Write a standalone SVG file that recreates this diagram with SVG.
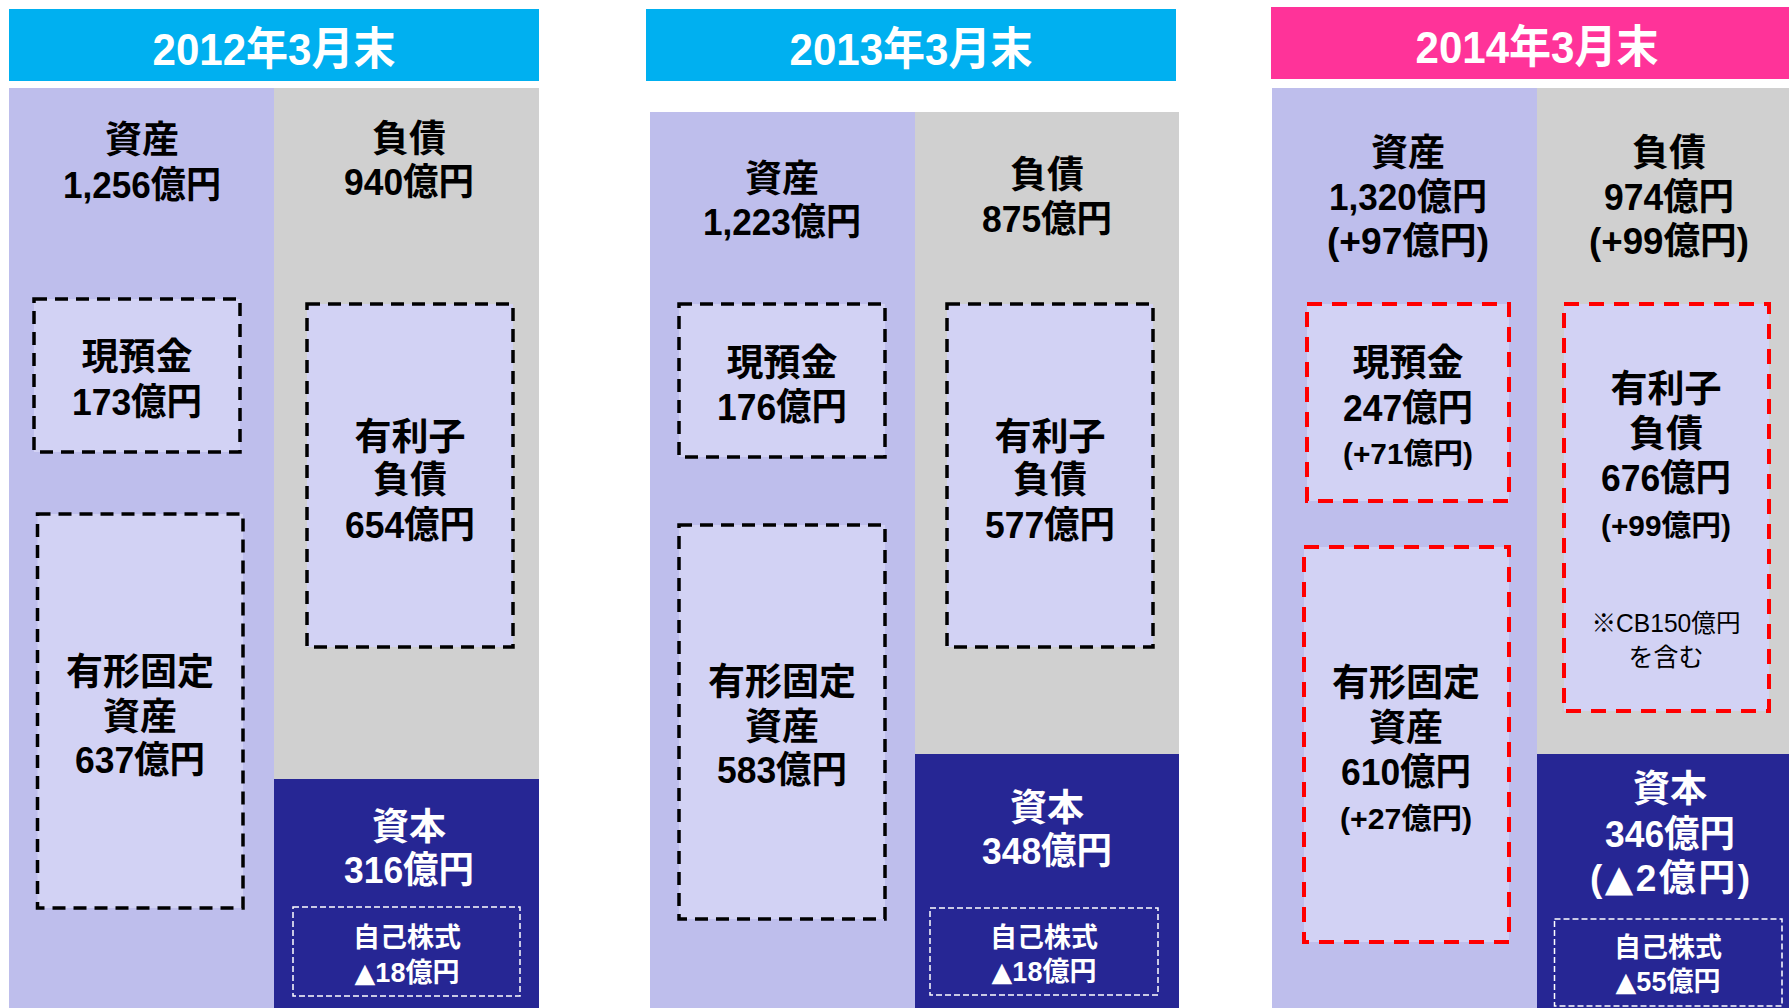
<svg xmlns="http://www.w3.org/2000/svg" width="1789" height="1008" viewBox="0 0 1789 1008">
<style>
text{font-family:"Liberation Sans","Noto Sans CJK JP",sans-serif;font-weight:bold;text-anchor:middle}
.hd{fill:#fff;font-size:45px}
.t{fill:#000;font-size:37px}
.w{fill:#fff;font-size:37px}
.s{font-size:29px}
.xs{font-size:25px;font-weight:normal}
.ws{fill:#fff;font-size:27px}
.tri{font-family:"DejaVu Sans",sans-serif}
.asset{fill:#BEBEEC}
.liab{fill:#D0D0D0}
.cap{fill:#262694}
.box{fill:#D2D2F4;stroke:#000;stroke-width:3.5;stroke-dasharray:13 8}
.rbox{fill:#D2D2F4;stroke:#FF0000;stroke-width:4;stroke-dasharray:15 10}
.wbox{fill:none;stroke:#fff;stroke-width:1.5;stroke-dasharray:6 3}
</style>
<rect width="1789" height="1008" fill="#fff"/>

<g id="p2012">
<rect x="9" y="9" width="530" height="72" fill="#00B0F0"/>
<text class="hd" x="274" y="65" textLength="243" lengthAdjust="spacingAndGlyphs">2012年3月末</text>
<rect class="asset" x="9" y="88" width="265" height="920"/>
<rect class="liab" x="274" y="88" width="265" height="691"/>
<rect class="cap" x="274" y="779" width="265" height="229"/>
</g>
<g id="n2012-asset"><text class="t" x="142" y="153">資産<tspan x="142" y="198" textLength="158" lengthAdjust="spacingAndGlyphs">1,256億円</tspan></text></g>
<g id="n2012-liab"><text class="t" x="409" y="152">負債<tspan x="409" y="195" textLength="130" lengthAdjust="spacingAndGlyphs">940億円</tspan></text></g>
<g id="n2012-cash"><rect class="box" x="34" y="299" width="206" height="153"/><text class="t" x="137" y="370">現預金<tspan x="137" y="415" textLength="130" lengthAdjust="spacingAndGlyphs">173億円</tspan></text></g>
<g id="n2012-debt"><rect class="box" x="307" y="304" width="206" height="343"/><text class="t" x="410" y="450">有利子<tspan x="410" y="493">負債</tspan><tspan x="410" y="538" textLength="130" lengthAdjust="spacingAndGlyphs">654億円</tspan></text></g>
<g id="n2012-fixed"><rect class="box" x="37.5" y="514" width="205.5" height="394"/><text class="t" x="140" y="685">有形固定<tspan x="140" y="730">資産</tspan><tspan x="140" y="773" textLength="130" lengthAdjust="spacingAndGlyphs">637億円</tspan></text></g>
<g id="n2012-cap"><text class="w" x="409" y="840">資本<tspan x="409" y="883" textLength="130" lengthAdjust="spacingAndGlyphs">316億円</tspan></text></g>
<g id="n2012-treasury"><rect class="wbox" x="293" y="907" width="227" height="89"/><text class="ws" x="407" y="947">自己株式<tspan x="407" y="982"><tspan class="tri">▲</tspan>18億円</tspan></text></g>

<g id="p2013">
<rect x="646" y="9" width="530" height="72" fill="#00B0F0"/>
<text class="hd" x="911" y="65" textLength="243" lengthAdjust="spacingAndGlyphs">2013年3月末</text>
<rect class="asset" x="650" y="112" width="265" height="896"/>
<rect class="liab" x="915" y="112" width="264" height="642"/>
<rect class="cap" x="915" y="754" width="264" height="254"/>
</g>
<g id="n2013-asset"><text class="t" x="782" y="192">資産<tspan x="782" y="235" textLength="158" lengthAdjust="spacingAndGlyphs">1,223億円</tspan></text></g>
<g id="n2013-liab"><text class="t" x="1047" y="188">負債<tspan x="1047" y="232" textLength="130" lengthAdjust="spacingAndGlyphs">875億円</tspan></text></g>
<g id="n2013-cash"><rect class="box" x="679" y="304" width="206" height="153"/><text class="t" x="782" y="376">現預金<tspan x="782" y="420" textLength="130" lengthAdjust="spacingAndGlyphs">176億円</tspan></text></g>
<g id="n2013-debt"><rect class="box" x="947" y="304" width="206" height="343"/><text class="t" x="1050" y="450">有利子<tspan x="1050" y="493">負債</tspan><tspan x="1050" y="538" textLength="130" lengthAdjust="spacingAndGlyphs">577億円</tspan></text></g>
<g id="n2013-fixed"><rect class="box" x="679" y="525" width="206" height="394"/><text class="t" x="782" y="695">有形固定<tspan x="782" y="740">資産</tspan><tspan x="782" y="783" textLength="130" lengthAdjust="spacingAndGlyphs">583億円</tspan></text></g>
<g id="n2013-cap"><text class="w" x="1047" y="821">資本<tspan x="1047" y="864" textLength="130" lengthAdjust="spacingAndGlyphs">348億円</tspan></text></g>
<g id="n2013-treasury"><rect class="wbox" x="930" y="908" width="228" height="87"/><text class="ws" x="1044" y="947">自己株式<tspan x="1044" y="981"><tspan class="tri">▲</tspan>18億円</tspan></text></g>

<g id="p2014">
<rect x="1271" y="7" width="532" height="72" fill="#FF3399"/>
<text class="hd" x="1537" y="63" textLength="243" lengthAdjust="spacingAndGlyphs">2014年3月末</text>
<rect class="asset" x="1272" y="88" width="265" height="920"/>
<rect class="liab" x="1537" y="88" width="265" height="666"/>
<rect class="cap" x="1537" y="754" width="265" height="254"/>
</g>
<g id="n2014-asset"><text class="t" x="1408" y="166">資産<tspan x="1408" y="210" textLength="158" lengthAdjust="spacingAndGlyphs">1,320億円</tspan><tspan x="1408" y="254" textLength="162" lengthAdjust="spacingAndGlyphs">(+97億円)</tspan></text></g>
<g id="n2014-liab"><text class="t" x="1669" y="166">負債<tspan x="1669" y="210" textLength="130" lengthAdjust="spacingAndGlyphs">974億円</tspan><tspan x="1669" y="254" textLength="160" lengthAdjust="spacingAndGlyphs">(+99億円)</tspan></text></g>
<g id="n2014-cash"><rect class="rbox" x="1307" y="304" width="202" height="197"/><text class="t" x="1408" y="376">現預金<tspan x="1408" y="421" textLength="130" lengthAdjust="spacingAndGlyphs">247億円</tspan><tspan class="s" x="1408" y="464" textLength="130" lengthAdjust="spacingAndGlyphs">(+71億円)</tspan></text></g>
<g id="n2014-debt"><rect class="rbox" x="1564" y="304" width="205" height="407"/><text class="t" x="1666" y="402">有利子<tspan x="1666" y="447">負債</tspan><tspan x="1666" y="491" textLength="130" lengthAdjust="spacingAndGlyphs">676億円</tspan><tspan class="s" x="1666" y="536" textLength="130" lengthAdjust="spacingAndGlyphs">(+99億円)</tspan></text><text class="t xs" x="1666" y="632"><tspan textLength="149" lengthAdjust="spacingAndGlyphs">※CB150億円</tspan><tspan x="1666" y="666">を含む</tspan></text></g>
<g id="n2014-fixed"><rect class="rbox" x="1304" y="547" width="205" height="395"/><text class="t" x="1406" y="696">有形固定<tspan x="1406" y="741">資産</tspan><tspan x="1406" y="785" textLength="130" lengthAdjust="spacingAndGlyphs">610億円</tspan><tspan class="s" x="1406" y="829" textLength="132" lengthAdjust="spacingAndGlyphs">(+27億円)</tspan></text></g>
<g id="n2014-cap"><text class="w" x="1670" y="802">資本<tspan x="1670" y="847" textLength="130" lengthAdjust="spacingAndGlyphs">346億円</tspan><tspan x="1670" y="891" textLength="160" lengthAdjust="spacing">(<tspan class="tri">▲</tspan>2億円)</tspan></text></g>
<g id="n2014-treasury"><rect class="wbox" x="1554.5" y="919" width="227.5" height="87"/><text class="ws" x="1668" y="957">自己株式<tspan x="1668" y="991"><tspan class="tri">▲</tspan>55億円</tspan></text></g>
</svg>
